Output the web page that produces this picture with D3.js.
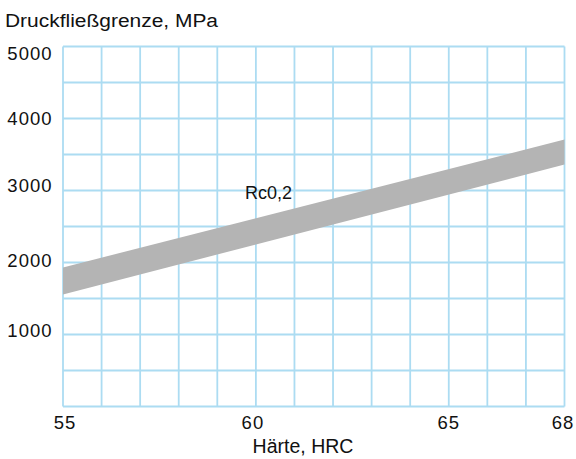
<!DOCTYPE html>
<html>
<head>
<meta charset="utf-8">
<script src="https://cdn.jsdelivr.net/npm/d3@7"></script>
<style>
  html, body { margin: 0; padding: 0; background: #fff; }
  svg text { font-family: "Liberation Sans", Arial, Helvetica, sans-serif; fill: #111; }
</style>
</head>
<body>
<svg id="chart" width="576" height="459"></svg>
<script>
// ---- data ----
const hardness = [55, 68];                 // HRC
const bandLower = [1556, 3361];            // MPa
const bandUpper = [1931, 3708];            // MPa
const xTickValues = [55, 60, 65, 68];
const yTickValues = [1000, 2000, 3000, 4000, 5000];
const xGridValues = d3.range(55, 69, 1);
const yGridValues = d3.range(0, 5001, 500);
const yTitle = "Druckfließgrenze, MPa";
const xTitle = "Härte, HRC";
const bandLabel = "Rc0,2";

// ---- layout ----
const svg = d3.select("#chart");
const x = d3.scaleLinear().domain([55, 68]).range([63, 564.5]);
const y = d3.scaleLinear().domain([0, 5000]).range([406.5, 46.5]);
const gridColor = "#acdcf2";

// grid (below the band)
const grid = svg.append("g").attr("stroke", gridColor).attr("stroke-width", 1.8).attr("fill", "none");
grid.selectAll("line.v").data(xGridValues).join("line")
  .attr("x1", d => x(d)).attr("x2", d => x(d))
  .attr("y1", y(0)).attr("y2", y(5000));
grid.selectAll("line.h").data(yGridValues).join("line")
  .attr("y1", d => y(d)).attr("y2", d => y(d))
  .attr("x1", x(55)).attr("x2", x(68));

// band
const bandData = hardness.map((h, i) => ({ h, lo: bandLower[i], hi: bandUpper[i] }));
svg.append("path")
  .datum(bandData)
  .attr("fill", "#b4b4b4")
  .attr("d", d3.area().x(d => x(d.h)).y0(d => y(d.lo)).y1(d => y(d.hi)));

// y tick labels
const yNudge = { 1000: 2, 2000: 4, 3000: 1.5, 4000: 6, 5000: 13.5 };
svg.append("g").selectAll("text").data(yTickValues).join("text")
  .attr("x", 52.5)
  .attr("y", d => y(d) + yNudge[d])
  .attr("text-anchor", "end")
  .attr("font-size", 18.5)
  .attr("letter-spacing", 1)
  .text(d => d);

// x tick labels
const xNudge = { 55: 2, 60: -3, 65: 0, 68: -1.5 };
svg.append("g").selectAll("text").data(xTickValues).join("text")
  .attr("x", d => x(d) + xNudge[d])
  .attr("y", 429)
  .attr("text-anchor", "middle")
  .attr("font-size", 18.5)
  .attr("letter-spacing", 1)
  .text(d => d);

// titles
svg.append("text")
  .attr("x", 5).attr("y", 27)
  .attr("font-size", 18)
  .attr("textLength", 213).attr("lengthAdjust", "spacingAndGlyphs")
  .text(yTitle);

svg.append("text")
  .attr("x", 303).attr("y", 453)
  .attr("text-anchor", "middle")
  .attr("font-size", 19.5)
  .text(xTitle);

// band label
svg.append("text")
  .attr("x", 245).attr("y", 199)
  .attr("font-size", 18)
  .text(bandLabel);
</script>
</body>
</html>
